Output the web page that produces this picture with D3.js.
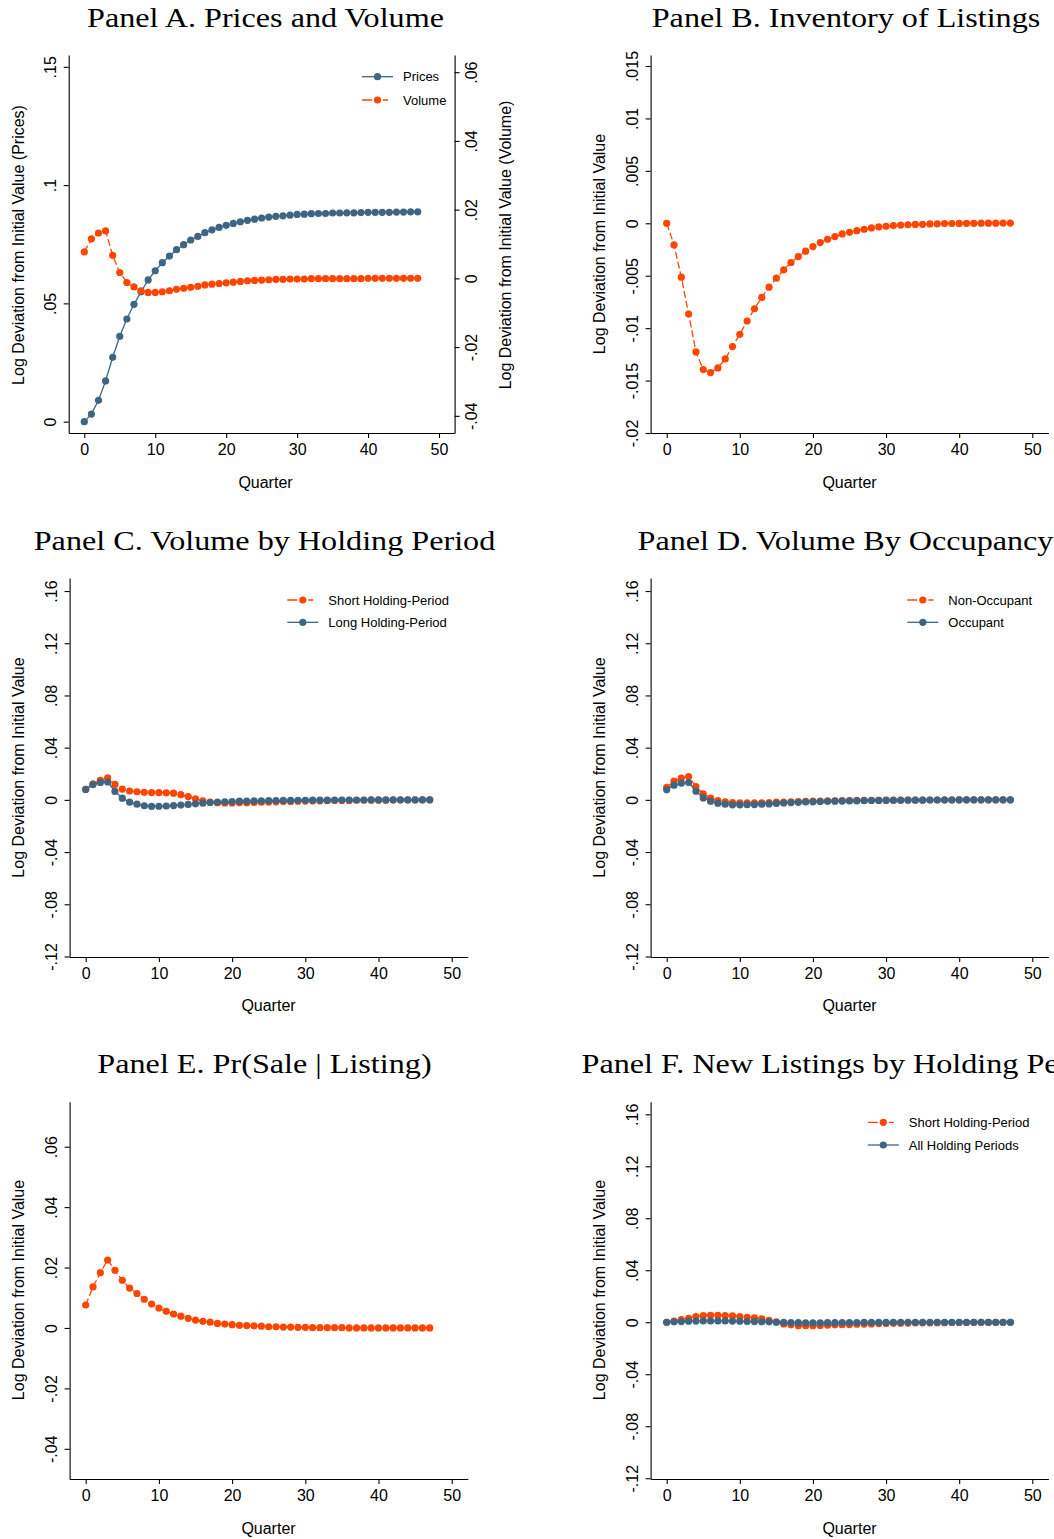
<!DOCTYPE html>
<html>
<head>
<meta charset="utf-8">
<script src="https://cdn.jsdelivr.net/npm/d3@7/dist/d3.min.js"></script>
<style>
  html, body { margin: 0; padding: 0; background: #fff; }
  svg { display: block; }
  .tick text, .lab { font-family: "Liberation Sans", Arial, sans-serif; fill: #000; }
  .title { font-family: "Liberation Serif", "Times New Roman", serif; fill: #000; }
</style>
</head>
<body>
<svg id="chart" width="1054" height="1539"></svg>
<script>
// Quarters since the shock
const quarters = d3.range(48);
const xTicks = [0, 10, 20, 30, 40, 50];

// Panel A: prices (left axis) and volume (right axis)
const pricesA = [0, 0.0032, 0.0090, 0.0172, 0.0272, 0.0361, 0.0434, 0.0496, 0.0549, 0.0599,
  0.0638, 0.0672, 0.0700, 0.0727, 0.0748, 0.0768, 0.0783, 0.0799, 0.0811, 0.0821,
  0.0830, 0.0838, 0.0845, 0.0851, 0.0856, 0.0861, 0.0865, 0.0868, 0.0870, 0.0873,
  0.0876, 0.0877, 0.0879, 0.0880, 0.0880, 0.0882, 0.0882, 0.0883, 0.0883, 0.0884,
  0.0885, 0.0885, 0.0885, 0.0885, 0.0886, 0.0886, 0.0887, 0.0887];
const volumeA = [0.0077, 0.0115, 0.0132, 0.0138, 0.0067, 0.0017, -0.0012, -0.0025, -0.0036, -0.0041,
  -0.0041, -0.0039, -0.0036, -0.0032, -0.0029, -0.0026, -0.0023, -0.0019, -0.0017, -0.0015,
  -0.0013, -0.0011, -0.0009, -0.0007, -0.0006, -0.0005, -0.0004, -0.0003, -0.0003, -0.0002,
  -0.0002, -0.0002, -0.0001, -0.0001, -0.0001, -0.0001, -0.0001, -0.0001, -0.0001, -0.0001,
  0, 0, 0, 0, 0, 0, 0, 0];
const ticksALeft = [0, 0.05, 0.1, 0.15];
const labelsALeft = ["0", ".05", ".1", ".15"];
const ticksARight = [-0.04, -0.02, 0, 0.02, 0.04, 0.06];
const labelsARight = ["-.04", "-.02", "0", ".02", ".04", ".06"];

// Panel B: inventory of listings
const inventoryB = [0, -0.00206, -0.00514, -0.00866, -0.01227, -0.01395, -0.01424, -0.01379, -0.01294, -0.01176,
  -0.01059, -0.00932, -0.00815, -0.00707, -0.00609, -0.00523, -0.00444, -0.00374, -0.00317, -0.00266,
  -0.00222, -0.00184, -0.00152, -0.00127, -0.00101, -0.00086, -0.00070, -0.00057, -0.00044, -0.00035,
  -0.00029, -0.00022, -0.00017, -0.00014, -0.00011, -0.00010, -0.00006, -0.00005, -0.00003, -0.00002,
  -0.00001, 0, 0, 0.00001, 0.00001, 0.00001, 0.00002, 0.00002];
const ticksB = [-0.02, -0.015, -0.01, -0.005, 0, 0.005, 0.01, 0.015];
const labelsB = ["-.02", "-.015", "-.01", "-.005", "0", ".005", ".01", ".015"];

// Panel C: volume by holding period
const shortC = [0.0081, 0.0123, 0.0149, 0.0169, 0.0118, 0.0083, 0.0067, 0.0062, 0.0058, 0.0056,
  0.0055, 0.0054, 0.0051, 0.0040, 0.0025, 0.0008, -0.0007, -0.0017, -0.0022, -0.0024,
  -0.0024, -0.0023, -0.0022, -0.0020, -0.0018, -0.0017, -0.0015, -0.0013, -0.0012, -0.0010,
  -0.0009, -0.0008, -0.0007, -0.0006, -0.0005, -0.0004, -0.0004, -0.0003, -0.0003, -0.0002,
  -0.0002, -0.0002, -0.0001, -0.0001, -0.0001, -0.0001, 0, 0];
const longC = [0.0080, 0.0117, 0.0134, 0.0137, 0.0065, 0.0013, -0.0018, -0.0033, -0.0045, -0.0050,
  -0.0049, -0.0047, -0.0044, -0.0040, -0.0035, -0.0030, -0.0025, -0.0021, -0.0018, -0.0015,
  -0.0013, -0.0010, -0.0009, -0.0008, -0.0007, -0.0006, -0.0005, -0.0004, -0.0004, -0.0003,
  -0.0003, -0.0002, -0.0002, -0.0002, -0.0001, -0.0001, -0.0001, -0.0001, -0.0001, 0,
  0, 0, 0, 0, 0, 0, 0, 0];

// Panel D: volume by occupancy
const nonOccD = [0.0095, 0.0143, 0.0166, 0.0179, 0.0102, 0.0046, 0.0013, -0.0005, -0.0015, -0.0020,
  -0.0023, -0.0023, -0.0023, -0.0022, -0.0020, -0.0018, -0.0017, -0.0015, -0.0013, -0.0012,
  -0.0010, -0.0009, -0.0008, -0.0007, -0.0006, -0.0005, -0.0004, -0.0004, -0.0003, -0.0003,
  -0.0002, -0.0002, -0.0002, -0.0001, -0.0001, -0.0001, -0.0001, -0.0001, 0, 0,
  0, 0, 0, 0, 0, 0, 0, 0];
const occD = [0.0077, 0.0112, 0.0128, 0.0133, 0.0066, 0.0015, -0.0010, -0.0026, -0.0033, -0.0038,
  -0.0038, -0.0037, -0.0036, -0.0033, -0.0031, -0.0028, -0.0024, -0.0021, -0.0019, -0.0016,
  -0.0015, -0.0013, -0.0011, -0.0010, -0.0009, -0.0008, -0.0007, -0.0006, -0.0005, -0.0004,
  -0.0004, -0.0003, -0.0003, -0.0002, -0.0002, -0.0002, -0.0001, -0.0001, -0.0001, -0.0001,
  0, 0, 0, 0, 0, 0, 0, 0];
const ticksWide = [-0.12, -0.08, -0.04, 0, 0.04, 0.08, 0.12, 0.16];
const labelsWide = ["-.12", "-.08", "-.04", "0", ".04", ".08", ".12", ".16"];

// Panel E: probability of sale given listing
const saleE = [0.0076, 0.0136, 0.0183, 0.0225, 0.0191, 0.0158, 0.0132, 0.0114, 0.0095, 0.0079,
  0.0066, 0.0055, 0.0046, 0.0039, 0.0032, 0.0026, 0.0022, 0.0019, 0.0015, 0.0013,
  0.0011, 0.0009, 0.0008, 0.0007, 0.0006, 0.0004, 0.0004, 0.0003, 0.0003, 0.0002,
  0.0002, 0.0001, 0.0001, 0.0001, 0.0001, 0.0001, 0, 0, 0, 0,
  0, 0, 0, 0, 0, 0, 0, 0];
const ticksE = [-0.04, -0.02, 0, 0.02, 0.04, 0.06];
const labelsE = ["-.04", "-.02", "0", ".02", ".04", ".06"];

// Panel F: new listings by holding period
const shortF = [0, 0.0008, 0.0020, 0.0031, 0.0044, 0.0051, 0.0054, 0.0054, 0.0051, 0.0049,
  0.0044, 0.0038, 0.0033, 0.0026, 0.0015, 0.0003, -0.0013, -0.0020, -0.0026, -0.0027,
  -0.0026, -0.0024, -0.0023, -0.0020, -0.0019, -0.0018, -0.0015, -0.0014, -0.0013, -0.0010,
  -0.0009, -0.0008, -0.0007, -0.0006, -0.0005, -0.0004, -0.0004, -0.0003, -0.0003, -0.0002,
  -0.0002, -0.0002, -0.0001, -0.0001, -0.0001, -0.0001, 0, 0];
const allF = [0, 0.0003, 0.0005, 0.0008, 0.0009, 0.0010, 0.0010, 0.0010, 0.0010, 0.0009,
  0.0008, 0.0006, 0.0005, 0.0004, 0.0003, 0, -0.0001, -0.0003, -0.0003, -0.0004,
  -0.0004, -0.0004, -0.0003, -0.0003, -0.0002, -0.0002, -0.0002, -0.0001, -0.0001, -0.0001,
  -0.0001, 0, 0, 0, 0, 0, 0, 0, 0, 0,
  0, 0, 0, 0, 0, 0, 0, 0];

const ORANGE = "#ff4500";
const NAVY = "#3e6581";
const DASH = "7,3";
const YTITLE = "Log Deviation from Initial Value";

const svg = d3.select("#chart");

function drawPanel(p) {
  const g = svg.append("g");
  const k = (p.x50 - p.x0) / 50;
  const x = d3.scaleLinear().domain([-2.2, 52.2]).range([p.x0 - 2.2 * k, p.x50 + 2.2 * k]);
  const y = d3.scaleLinear().domain(p.yDomain).range([p.bottom, p.top]);
  const y2 = p.y2Domain ? d3.scaleLinear().domain(p.y2Domain).range([p.bottom, p.top]) : null;

  // x axis
  const xa = g.append("g").attr("transform", `translate(0,${p.bottom})`)
    .call(d3.axisBottom(x).tickValues(xTicks).tickFormat(d3.format("d")).tickSize(5).tickSizeOuter(0).tickPadding(6));
  xa.selectAll("text").attr("font-size", 16).attr("dy", "0.71em");

  // left y axis with vertical labels
  const ya = g.append("g").attr("transform", `translate(${x.range()[0]},0)`)
    .call(d3.axisLeft(y).tickValues(p.yTicks).tickFormat((d, i) => p.yLabels[i]).tickSize(5).tickSizeOuter(0));
  ya.selectAll("text")
    .attr("x", null).attr("dy", "0.35em").attr("text-anchor", "middle").attr("font-size", 16)
    .attr("transform", "translate(-18,0) rotate(-90)");

  if (y2) {
    const ya2 = g.append("g").attr("transform", `translate(${x.range()[1]},0)`)
      .call(d3.axisRight(y2).tickValues(p.y2Ticks).tickFormat((d, i) => p.y2Labels[i]).tickSize(5).tickSizeOuter(0));
    ya2.selectAll("text")
      .attr("x", null).attr("dy", "0.35em").attr("text-anchor", "middle").attr("font-size", 16)
      .attr("transform", "translate(17,0) rotate(-90)");
  }
  g.selectAll(".domain, .tick line").attr("stroke", "#000").attr("stroke-width", 1.1);

  // axis titles
  g.append("text").attr("class", "lab").attr("font-size", 16).attr("text-anchor", "middle")
    .attr("dy", "0.35em")
    .attr("transform", `translate(${p.yTitleX},${p.yTitleY}) rotate(-90)`).text(p.yTitle);
  if (p.y2Title) {
    g.append("text").attr("class", "lab").attr("font-size", 16).attr("text-anchor", "middle")
      .attr("dy", "0.35em")
      .attr("transform", `translate(${p.y2TitleX},${p.yTitleY}) rotate(-90)`).text(p.y2Title);
  }
  g.append("text").attr("class", "lab").attr("font-size", 16).attr("text-anchor", "middle")
    .attr("x", p.xTitleX).attr("y", p.xTitleY).text("Quarter");

  // series
  p.series.forEach(s => {
    const ys = s.right ? y2 : y;
    const line = d3.line().x((d, i) => x(quarters[i])).y(d => ys(d));
    g.append("path").datum(s.values).attr("d", line)
      .attr("fill", "none").attr("stroke", s.color).attr("stroke-width", 1.3)
      .attr("stroke-dasharray", s.dashed ? DASH : null);
    g.append("g").selectAll("circle").data(s.values).join("circle")
      .attr("cx", (d, i) => x(quarters[i])).attr("cy", d => ys(d)).attr("r", 3.6)
      .attr("fill", s.color);
  });

  // legend
  if (p.legend) {
    p.legend.items.forEach((s, i) => {
      const ly = p.legend.y + i * p.legend.dy;
      const lx = p.legend.x;
      g.append("line").attr("x1", lx).attr("x2", lx + 31).attr("y1", ly).attr("y2", ly)
        .attr("stroke", s.color).attr("stroke-width", 1.3)
        .attr("stroke-dasharray", s.dashed ? "10,5,2,4,5" : null);
      g.append("circle").attr("cx", lx + 15.5).attr("cy", ly).attr("r", 3.6).attr("fill", s.color);
      g.append("text").attr("class", "lab").attr("font-size", 13)
        .attr("x", lx + 41).attr("y", ly).attr("dy", "0.35em").text(s.name);
    });
  }

  // panel title
  g.append("text").attr("class", "title title-text").attr("font-size", 28)
    .attr("text-anchor", "middle").attr("x", p.titleX).attr("y", p.titleY).text(p.title);
}

const prices = { name: "Prices", values: pricesA, color: NAVY, dashed: false };
const volume = { name: "Volume", values: volumeA, color: ORANGE, dashed: true, right: true };
const shortHP = { name: "Short Holding-Period", values: shortC, color: ORANGE, dashed: true };
const longHP = { name: "Long Holding-Period", values: longC, color: NAVY, dashed: false };
const nonOcc = { name: "Non-Occupant", values: nonOccD, color: ORANGE, dashed: true };
const occ = { name: "Occupant", values: occD, color: NAVY, dashed: false };
const shortNew = { name: "Short Holding-Period", values: shortF, color: ORANGE, dashed: true };
const allNew = { name: "All Holding Periods", values: allF, color: NAVY, dashed: false };

const panels = [
  { title: "Panel A. Prices and Volume", titleX: 265.5, titleY: 27,
    x0: 84.3, x50: 439, top: 55, bottom: 433,
    yDomain: [-0.0048, 0.155], yTicks: ticksALeft, yLabels: labelsALeft,
    y2Domain: [-0.045, 0.065], y2Ticks: ticksARight, y2Labels: labelsARight,
    yTitle: YTITLE + " (Prices)", yTitleX: 18.5, yTitleY: 245,
    y2Title: YTITLE + " (Volume)", y2TitleX: 505.5,
    xTitleX: 265.5, xTitleY: 488,
    series: [prices, { ...volume }],
    legend: { x: 362, y: 76.7, dy: 23.3, items: [prices, volume] } },
  { title: "Panel B. Inventory of Listings", titleX: 846, titleY: 27,
    x0: 666.7, x50: 1032.3, top: 55, bottom: 433,
    yDomain: [-0.02, 0.01605], yTicks: ticksB, yLabels: labelsB,
    yTitle: YTITLE, yTitleX: 599.5, yTitleY: 244,
    xTitleX: 849.5, xTitleY: 488,
    series: [{ values: inventoryB, color: ORANGE, dashed: true }] },
  { title: "Panel C. Volume by Holding Period", titleX: 264.5, titleY: 550,
    x0: 85.7, x50: 451.7, top: 578, bottom: 957,
    yDomain: [-0.1204, 0.170], yTicks: ticksWide, yLabels: labelsWide,
    yTitle: YTITLE, yTitleX: 18.5, yTitleY: 767.5,
    xTitleX: 268.5, xTitleY: 1011,
    series: [shortHP, longHP],
    legend: { x: 287.3, y: 600, dy: 22.3, items: [shortHP, longHP] } },
  { title: "Panel D. Volume By Occupancy", titleX: 845.5, titleY: 550,
    x0: 666.7, x50: 1032.3, top: 578, bottom: 957,
    yDomain: [-0.1204, 0.170], yTicks: ticksWide, yLabels: labelsWide,
    yTitle: YTITLE, yTitleX: 599.5, yTitleY: 767.5,
    xTitleX: 849.5, xTitleY: 1011,
    series: [nonOcc, occ],
    legend: { x: 907.3, y: 600, dy: 22.3, items: [nonOcc, occ] } },
  { title: "Panel E. Pr(Sale | Listing)", titleX: 264.5, titleY: 1073,
    x0: 85.7, x50: 451.7, top: 1101.7, bottom: 1479,
    yDomain: [-0.05, 0.0749], yTicks: ticksE, yLabels: labelsE,
    yTitle: YTITLE, yTitleX: 18.5, yTitleY: 1290,
    xTitleX: 268.5, xTitleY: 1534,
    series: [{ values: saleE, color: ORANGE, dashed: true }] },
  { title: "Panel F. New Listings by Holding Period", titleX: 846, titleY: 1073,
    x0: 666.7, x50: 1032.3, top: 1101.7, bottom: 1479,
    yDomain: [-0.1206, 0.1697], yTicks: ticksWide, yLabels: labelsWide,
    yTitle: YTITLE, yTitleX: 599.5, yTitleY: 1290,
    xTitleX: 849.5, xTitleY: 1534,
    series: [shortNew, allNew],
    legend: { x: 867.8, y: 1122.3, dy: 22.7, items: [shortNew, allNew] } }
];

panels.forEach(drawPanel);

// Widen the serif titles uniformly so "Panel A" spans its measured width
const titles = svg.selectAll(".title-text");
const first = titles.node();
const stretch = 357 / first.getComputedTextLength();
titles.each(function () {
  const w = this.getComputedTextLength() * stretch;
  d3.select(this).attr("textLength", w).attr("lengthAdjust", "spacingAndGlyphs");
});
</script>
</body>
</html>
